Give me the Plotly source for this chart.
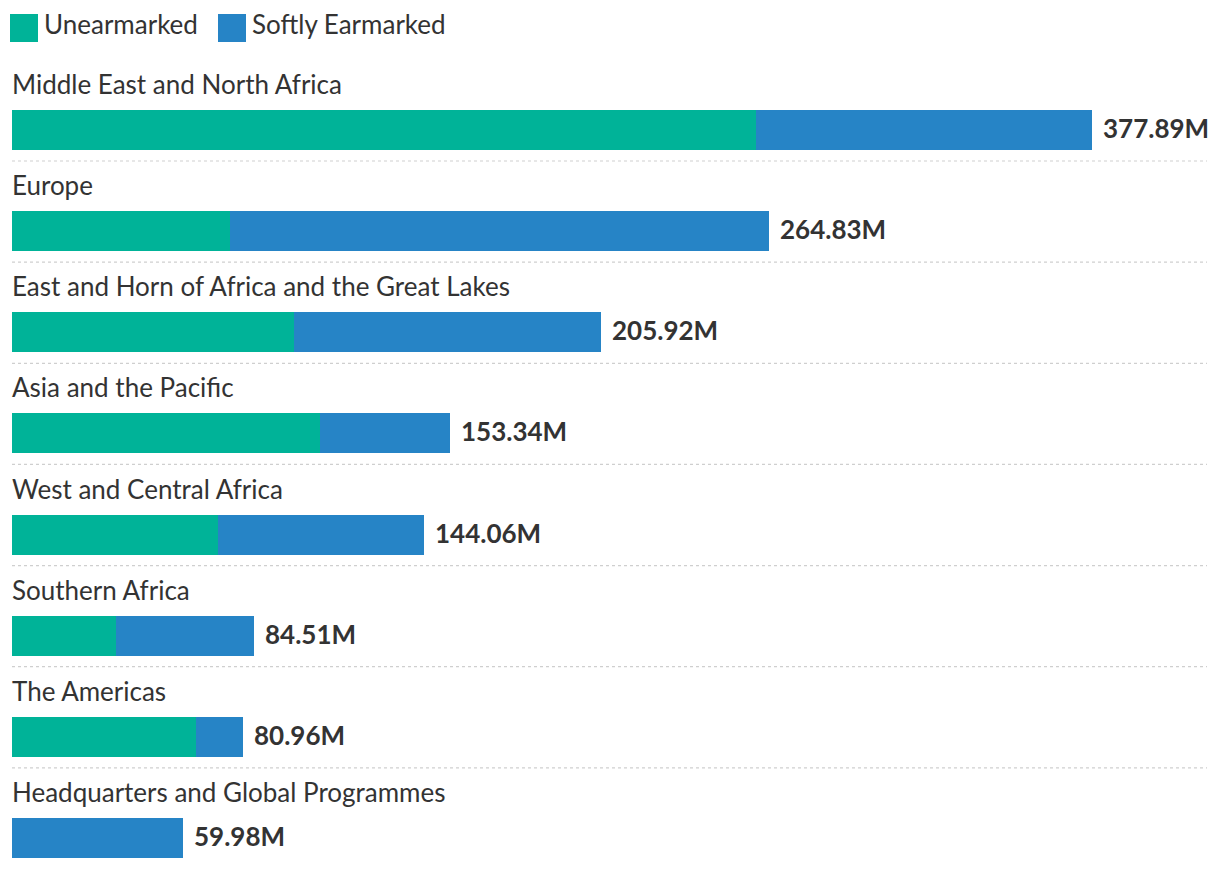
import plotly.graph_objects as go

regions = ["Middle East and North Africa", "Europe", "East and Horn of Africa and the Great Lakes",
           "Asia and the Pacific", "West and Central Africa", "Southern Africa", "The Americas",
           "Headquarters and Global Programmes"]
totals = [377.89, 264.83, 205.92, 153.34, 144.06, 84.51, 80.96, 59.98]
unearmarked = [260.3, 76.3, 98.7, 107.8, 72.1, 36.4, 64.4, 0.0]
softly = [round(t - u, 2) for t, u in zip(totals, unearmarked)]
series_names = ["Unearmarked", "Softly Earmarked"]
series_colors = ["#00B398", "#2684C6"]

OFF = 8  # default page body margin
W, H = 1220 - OFF, 870 - OFF
ML, MR = 12 - OFF, 13
plot_w = W - ML - MR
px_per_unit = 1080 / 377.89
xmax = plot_w / px_per_unit

pitch = 101.14
first_center = 130 - OFF
y_top = -first_center / pitch
y_bot = (H - first_center) / pitch
bar_w = 40 / pitch

idx = list(range(len(regions)))
FONT = "Lato, 'Open Sans', sans-serif"
TXT = "#333333"
FS = 26

fig = go.Figure()
for name, vals, col in zip(series_names, [unearmarked, softly], series_colors):
    fig.add_trace(go.Bar(x=vals, y=idx, orientation="h", name=name, marker=dict(color=col, line=dict(width=0)),
                         width=bar_w, showlegend=False, hoverinfo="x+name"))

annotations = []
shapes = []
for i, (r, t) in enumerate(zip(regions, totals)):
    annotations.append(dict(x=0, xref="x", y=i, yref="y", yshift=46, xshift=-2, text=r, showarrow=False,
                            xanchor="left", yanchor="middle", font=dict(family=FONT, size=FS, color=TXT)))
    annotations.append(dict(x=t, xref="x", y=i, yref="y", xshift=9, yshift=2, text=f"{t:.2f}M", showarrow=False,
                            xanchor="left", yanchor="middle",
                            font=dict(family=FONT, size=FS, color=TXT, weight="bold")))
    if i < len(regions) - 1:
        shapes.append(dict(type="line", xref="paper", x0=0, x1=1, yref="y", y0=i + 31 / pitch, y1=i + 31 / pitch,
                           line=dict(color="#cfcfcf", width=1.2, dash="dot")))

# legend
leg_x = [10 - OFF, 218 - OFF]
for lx, name, col in zip(leg_x, series_names, series_colors):
    shapes.append(dict(type="rect", xref="paper", yref="paper",
                       x0=(lx - ML) / plot_w, x1=(lx + 28 - ML) / plot_w,
                       y0=1 - (42 - OFF) / H, y1=1 - (14 - OFF) / H, fillcolor=col, line=dict(width=0)))
    annotations.append(dict(x=(lx + 32 - ML) / plot_w, xref="paper", y=1 - (24 - OFF) / H, yref="paper", text=name,
                            showarrow=False, xanchor="left", yanchor="middle",
                            font=dict(family=FONT, size=FS, color=TXT)))

fig.update_layout(
    barmode="stack", width=W, height=H, margin=dict(l=ML, r=MR, t=0, b=0),
    plot_bgcolor="white", paper_bgcolor="white",
    xaxis=dict(range=[0, xmax], visible=False, fixedrange=True),
    yaxis=dict(range=[y_bot, y_top], visible=False, fixedrange=True),
    annotations=annotations, shapes=shapes, bargap=0,
)
fig.write_html("out.html")
